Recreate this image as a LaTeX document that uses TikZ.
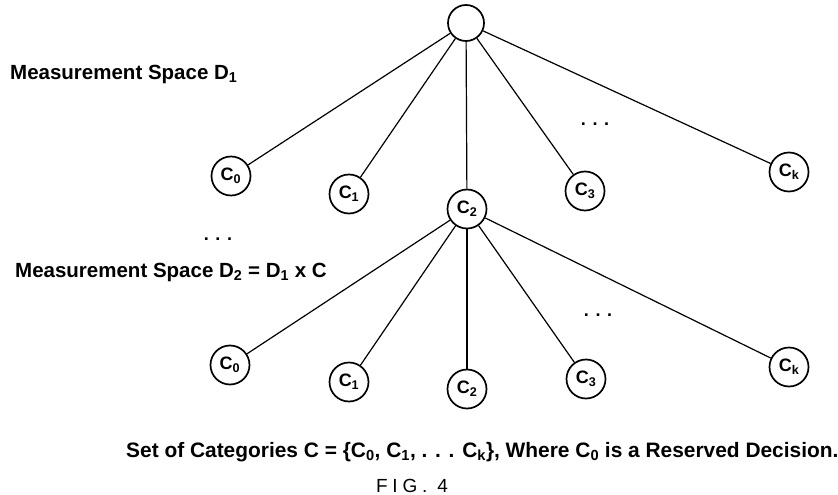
\documentclass[tikz,border=0pt]{standalone}
\usepackage{fontspec}
\setmainfont{Liberation Sans}
\begin{document}
\begin{tikzpicture}[x=1pt,y=-1pt,
  cat/.style={circle,draw,line width=1.7pt,minimum size=39pt,inner sep=0pt,font=\bfseries\fontsize{18}{18}\selectfont},
  edge/.style={line width=1.2pt},
  lbl/.style={font=\bfseries\fontsize{20.5}{22}\selectfont,inner sep=0pt},
  dots/.style={font=\bfseries\fontsize{18}{18}\selectfont,inner sep=0pt}]
\useasboundingbox (0,0) rectangle (838,495);
\node[cat,minimum size=36pt] (r) at (466,23) {};
\node[cat] (a0) at (231,176) {C\textsubscript{0}};
\node[cat] (a1) at (349,194) {C\textsubscript{1}};
\node[cat] (a2) at (467,209) {C\textsubscript{2}};
\node[cat] (a3) at (585,191) {C\textsubscript{3}};
\node[cat] (ak) at (789,172) {C\textsubscript{k}};
\node[cat] (b0) at (230,365) {C\textsubscript{0}};
\node[cat] (b1) at (349,382) {C\textsubscript{1}};
\node[cat] (b2) at (467,389) {C\textsubscript{2}};
\node[cat] (b3) at (586,379) {C\textsubscript{3}};
\node[cat] (bk) at (789,367) {C\textsubscript{k}};
\foreach \n in {a0,a1,a2,a3,ak} \draw[edge] (r) -- (\n);
\foreach \n in {b0,b1,b2,b3,bk} \draw[edge] (a2) -- (\n);
\node[dots] (d1) at (595,124) {. . .};
\node[dots] (d2) at (598,315) {. . .};
\node[dots] (d3) at (218,239) {. . .};
\node[lbl,anchor=base west] (m1) at (10,79) {Measurement Space D\textsubscript{1}};
\node[lbl,anchor=base west] (m2) at (15,277) {Measurement Space D\textsubscript{2} = D\textsubscript{1} x C};
\node[lbl,anchor=base west,font=\bfseries\fontsize{20.9}{22}\selectfont] (set) at (126,457) {Set of Categories C = \{C\textsubscript{0}, C\textsubscript{1}, . . . C\textsubscript{k}\}, Where C\textsubscript{0} is a Reserved Decision.};
\node[lbl,anchor=base,font=\fontsize{19}{20}\selectfont\addfontfeature{LetterSpace=25}] (fig) at (412,492) {FIG. 4};
\end{tikzpicture}
\end{document}
